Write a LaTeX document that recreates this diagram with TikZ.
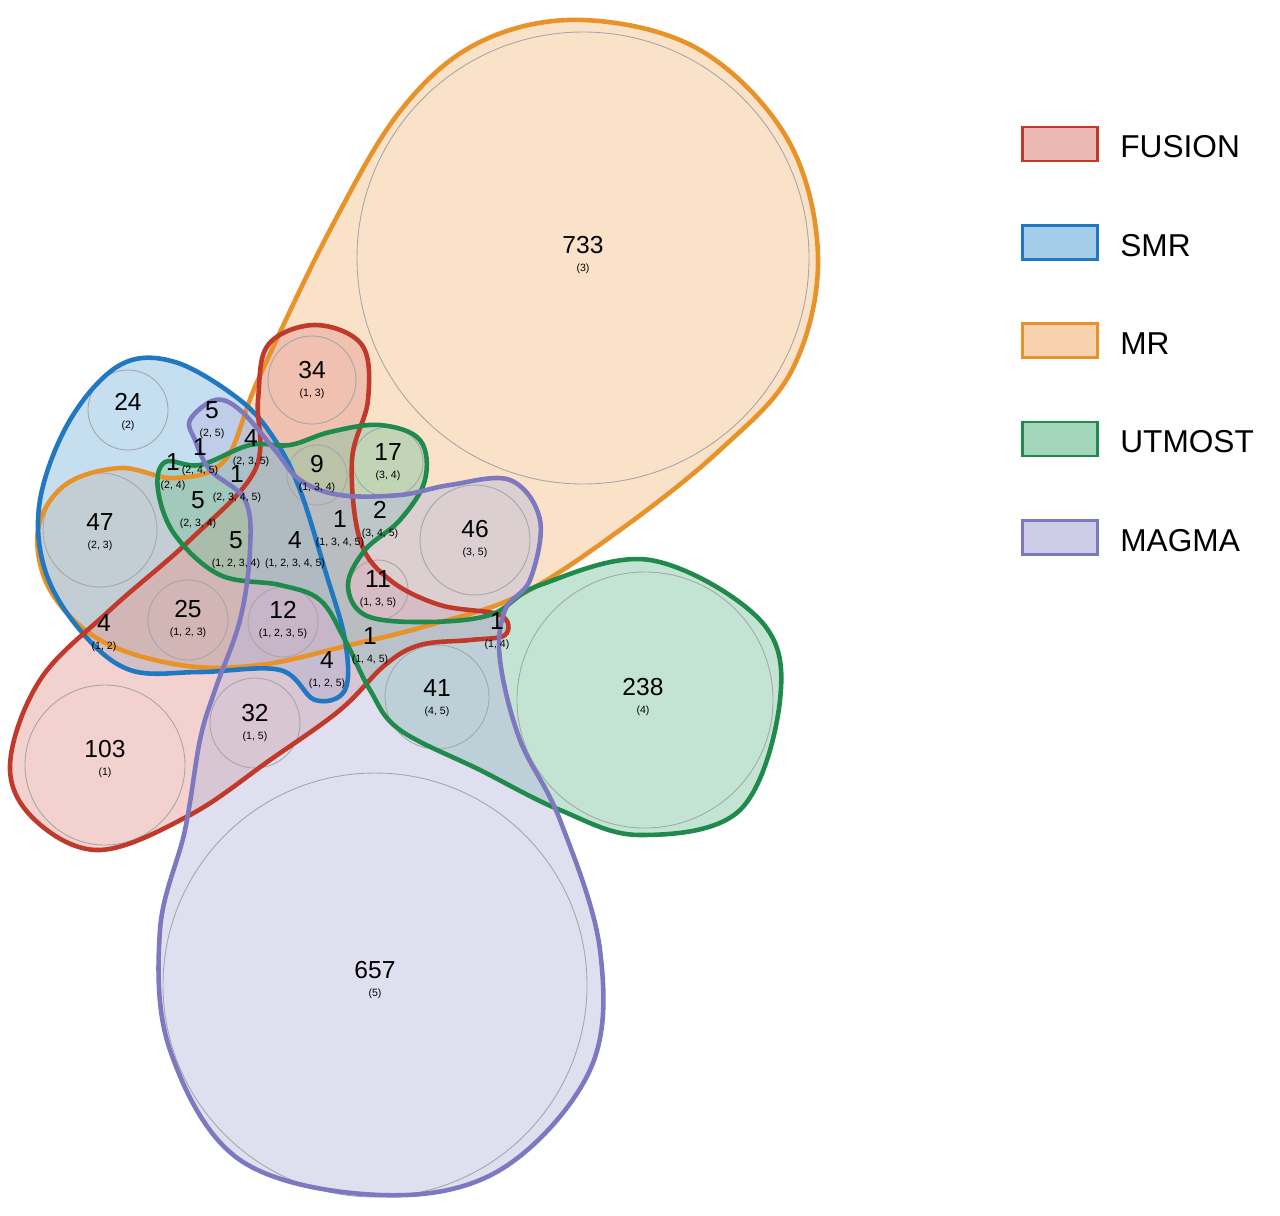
\documentclass[tikz,border=0pt]{standalone}
\usepackage{fontspec}
\setmainfont{Liberation Sans}
\begin{document}
\begin{tikzpicture}[x=0.02cm,y=-0.02cm,
  circ/.style={circle,draw=gray!70,line width=0.5pt,inner sep=0pt},
  num/.style={font=\fontsize{14}{14}\selectfont,inner sep=0pt},
  sub/.style={font=\fontsize{6}{6}\selectfont,inner sep=0pt},
  leg/.style={draw,line width=1.5pt,minimum width=1.5cm,minimum height=0.68cm,inner sep=0pt},
  legt/.style={font=\fontsize{18}{18}\selectfont,anchor=west,inner sep=0pt}]
\definecolor{cF}{HTML}{C0392B}\definecolor{fF}{HTML}{E49A92}
\definecolor{cS}{HTML}{1F78C1}\definecolor{fS}{HTML}{7FB7DF}
\definecolor{cM}{HTML}{E8922A}\definecolor{fM}{HTML}{F4BE88}
\definecolor{cU}{HTML}{1F8A4C}\definecolor{fU}{HTML}{7CC49D}
\definecolor{cG}{HTML}{7D78C0}\definecolor{fG}{HTML}{B8B8DE}
\useasboundingbox (0,0) rectangle (1280,1215);
\def\pM{(583,20)(700,50)(788,140)(818,258)(792,370)(720,450)(620,530)(520,595)(430,625)(350,645)(260,665)(180,665)(100,640)(50,590)(38,530)(65,485)(120,468)(175,478)(225,460)(258,380)(330,230)(401,110)(480,42)}
\def\pS{(40,500)(70,420)(120,365)(175,362)(240,400)(275,440)(300,490)(325,570)(345,640)(345,690)(315,700)(280,670)(200,672)(130,670)(80,630)(45,570)}
\def\pF{(10,765)(40,680)(110,610)(190,540)(255,470)(258,400)(268,345)(315,325)(362,345)(368,400)(352,460)(360,540)(390,580)(440,605)(500,615)(505,635)(470,640)(420,645)(385,665)(340,710)(270,760)(190,815)(100,850)(35,820)}
\def\pU{(165,462)(200,465)(250,445)(290,445)(330,432)(380,425)(420,440)(425,480)(400,520)(365,550)(348,585)(365,615)(420,622)(490,615)(540,585)(650,560)(760,620)(780,700)(740,810)(640,835)(560,810)(480,770)(400,730)(370,690)(345,640)(320,600)(280,585)(220,575)(175,535)(158,490)}
\def\pG{(190,420)(215,400)(240,410)(275,450)(300,480)(340,495)(400,495)(450,485)(510,480)(540,520)(530,580)(505,610)(500,660)(520,740)(560,820)(600,950)(590,1070)(500,1170)(380,1195)(240,1160)(170,1050)(160,930)(185,830)(200,740)(215,690)(240,620)(250,550)(245,500)(210,470)(195,440)}
\foreach \p/\f in {\pM/fM,\pS/fS,\pF/fF,\pU/fU,\pG/fG}
  \fill[\f,fill opacity=0.45] plot[smooth cycle,tension=0.6] coordinates{\p};
% circles
\foreach \n/\x/\y/\r in {c733/583/258/226, c657/375/985/212, c238/645/700/128, c103/105/765/80, c47/100/530/57, c24/128/410/40, c34/312/380/44, c46/475/540/55, c41/437/697/52, c32/255/723/45, c25/188/620/40, c12/283/622/35, c17/388/462/35, c9/317/475/30, c11/378/590/30}
  \node[circ,minimum size=2*\r*0.02cm] (\n) at (\x,\y) {};
% outlines
\foreach \p/\c in {\pM/cM,\pS/cS,\pF/cF,\pU/cU,\pG/cG}
  \draw[\c,line width=2.6pt] plot[smooth cycle,tension=0.6] coordinates{\p};
% labels
\foreach \n/\x/\y/\v/\s in {
 l733/583/245/733/{(3)}, l657/375/970/657/{(5)}, l238/643/687/238/{(4)}, l103/105/749/103/{(1)},
 l47/100/522/47/{(2, 3)}, l24/128/402/24/{(2)}, l34/312/370/34/{(1, 3)}, l46/475/529/46/{(3, 5)},
 l41/437/688/41/{(4, 5)}, l32/255/713/32/{(1, 5)}, l25/188/609/25/{(1, 2, 3)}, l12/283/610/12/{(1, 2, 3, 5)},
 l17/388/452/17/{(3, 4)}, l9/317/464/9/{(1, 3, 4)}, l11/378/579/11/{(1, 3, 5)},
 l12b/104/623/4/{(1, 2)}, l25b/212/410/5/{(2, 5)}, l235/251/438/4/{(2, 3, 5)},
 l245/200/447/1/{(2, 4, 5)}, l24b/173/462/1/{(2, 4)}, l2345/237/474/1/{(2, 3, 4, 5)},
 l234/198/500/5/{(2, 3, 4)}, l1234/236/540/5/{(1, 2, 3, 4)}, l12345/295/540/4/{(1, 2, 3, 4, 5)},
 l1345/340/519/1/{(1, 3, 4, 5)}, l345/380/510/2/{(3, 4, 5)}, l145/370/636/1/{(1, 4, 5)},
 l125/327/660/4/{(1, 2, 5)}, l14/497/621/1/{(1, 4)}}
 { \node[num] (\n) at (\x,\y) {\v};
   \node[sub] (\n s) at (\x,\y+24) {\s}; }
% legend
\foreach \i/\c/\f/\t in {0/cF/fF/FUSION,1/cS/fS/SMR,2/cM/fM/MR,3/cU/fU/UTMOST,4/cG/fG/MAGMA}{
  \node[leg,draw=\c,fill=\f!70] (box\i) at (1060,144+98.3*\i) {};
  \node[legt] (txt\i) at (1120,147+98.3*\i) {\t};}
\end{tikzpicture}
\end{document}
